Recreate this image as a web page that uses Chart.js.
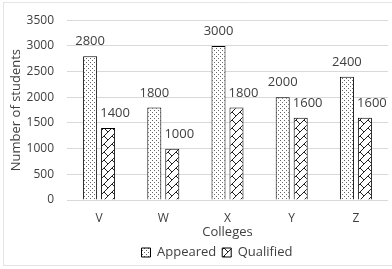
<!DOCTYPE html>
<html>
<head>
<meta charset="utf-8">
<script src="https://cdn.jsdelivr.net/npm/chart.js@4"></script>
<style>
  body { margin: 0; background: #fff; }
  canvas { display: block; }
</style>
</head>
<body>
<canvas id="barChart" width="392" height="269"></canvas>
<script>
const colleges = ["V", "W", "X", "Y", "Z"];
const appeared = [2800, 1800, 3000, 2000, 2400];
const qualified = [1400, 1000, 1800, 1600, 1600];
const yTicks = [0, 500, 1000, 1500, 2000, 2500, 3000, 3500];

const textColor = "#404040";
const fontFamily = "'Open Sans', sans-serif";

// dotted fill like the excel pattern
function dotPattern() {
    let c = document.createElement("canvas");
    c.width = 4; c.height = 4;
    let g = c.getContext("2d");
    g.fillStyle = "#fff";
    g.fillRect(0, 0, 4, 4);
    g.fillStyle = "#666";
    g.fillRect(0, 0, 1, 1);
    g.fillRect(2, 2, 1, 1);
    return g.createPattern(c, "repeat");
}

// diagonal brick / zigzag
function brickPattern() {
    let c = document.createElement("canvas");
    c.width = 8; c.height = 8;
    let g = c.getContext("2d");
    g.fillStyle = "#fff";
    g.fillRect(0, 0, 8, 8);
    g.strokeStyle = "#222";
    g.lineWidth = 1;
    g.beginPath();
    g.moveTo(0, 8); g.lineTo(8, 0);
    g.moveTo(0, 0); g.lineTo(4, 4);
    g.stroke();
    return g.createPattern(c, "repeat");
}

const valueLabels = {
    id: "valueLabels",
    afterDatasetsDraw(chart) {
        let ctx = chart.ctx;
        ctx.save();
        ctx.font = "13px " + fontFamily;
        ctx.fillStyle = textColor;
        ctx.textAlign = "center";
        ctx.textBaseline = "alphabetic";
        chart.data.datasets.forEach((ds, i) => {
            let meta = chart.getDatasetMeta(i);
            meta.data.forEach((bar, j) => {
                let dx = i === 1 ? 7 : 0;
                ctx.fillText(String(ds.data[j]), bar.x + dx, bar.y - 11);
            });
        });
        ctx.restore();
    }
};

const frame = {
    id: "frame",
    afterLayout(chart) {
        // legend sits a bit right of the canvas centre in the original
        chart.legend.left += 23;
        chart.legend.right += 23;
    },
    beforeDraw(chart) {
        let ctx = chart.ctx;
        ctx.save();
        ctx.strokeStyle = "#c8c8c8";
        ctx.setLineDash([1, 1]);
        ctx.strokeRect(3.5, 2.5, 395, 263);
        ctx.restore();
    }
};

let ctx = document.getElementById("barChart").getContext("2d");

new Chart(ctx, {
    type: "bar",
    data: {
        labels: colleges,
        datasets: [{
            label: "Appeared",
            data: appeared,
            backgroundColor: dotPattern(),
            borderColor: "#000",
            borderWidth: 1
        }, {
            label: "Qualified",
            data: qualified,
            backgroundColor: brickPattern(),
            borderColor: "#000",
            borderWidth: 1
        }]
    },
    options: {
        responsive: false,
        animation: false,
        categoryPercentage: 0.56,
        barPercentage: 0.78,
        layout: { padding: { top: 20, right: 4, left: 0, bottom: 0 } },
        plugins: {
            tooltip: { enabled: false },
            legend: {
                position: "bottom",
                labels: {
                    boxWidth: 9,
                    boxHeight: 9,
                    padding: 6,
                    color: textColor,
                    font: { family: fontFamily, size: 13 }
                }
            }
        },
        scales: {
            x: {
                grid: { display: false, drawTicks: false },
                border: { display: false },
                ticks: { color: textColor, padding: 11, font: { family: fontFamily, size: 12 } },
                title: {
                    display: true,
                    text: "Colleges",
                    color: textColor,
                    padding: { top: 0, bottom: 0 },
                    font: { family: fontFamily, size: 13 }
                },
                afterFit(scale) { scale.height = 40; }
            },
            y: {
                min: 0,
                max: 3500,
                afterBuildTicks(scale) { scale.ticks = yTicks.map(v => ({ value: v })); },
                grid: { color: "#d9d9d9", drawTicks: false },
                border: { display: false },
                ticks: {
                    color: textColor,
                    padding: 13,
                    font: { family: fontFamily, size: 12 },
                    callback: v => String(v)
                },
                title: {
                    display: true,
                    text: "Number of students",
                    color: textColor,
                    padding: { top: 8, bottom: 0 },
                    font: { family: fontFamily, size: 13 }
                },
                afterFit(scale) { scale.width = 67; }
            }
        }
    },
    plugins: [valueLabels, frame]
});
</script>
</body>
</html>
